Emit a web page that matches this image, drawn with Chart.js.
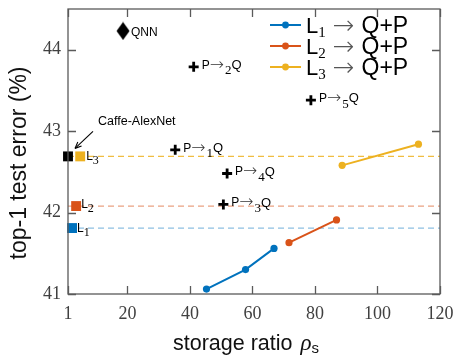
<!DOCTYPE html>
<html lang="en">
<head>
<meta charset="UTF-8">
<title>top-1 test error vs storage ratio</title>
<style>
  *{margin:0;padding:0;box-sizing:border-box}
  body{background:#fff;width:458px;height:358px;overflow:hidden}
  #wrap{position:relative;width:458px;height:358px}
</style>
</head>
<body>
<div id="wrap"><canvas id="c" width="458" height="358"></canvas></div>

<script src="https://cdn.jsdelivr.net/npm/chart.js@4.4.0"></script>
<script>
/* ticks */
const xTicks=[1,20,40,60,80,100,120];
const yTicks=[41,42,43,44];

/* L -> Q+P series */
const l1X=[45.3,57.8,66.9], l1Y=[41.06,41.30,41.56];
const l2X=[71.7,86.9],      l2Y=[41.63,41.91];
const l3X=[88.7,113.1],     l3Y=[42.58,42.84];
const seriesNames=['1','2','3'];

/* pruned baselines L1, L2, L3 (square markers + dashed level) */
const baseX=[2.3,3.6,4.9];
const baseY=[41.81,42.08,42.69];

/* reference nets */
const caffeX=1, caffeY=42.69;
const qnnX=18.6, qnnY=44.23;

/* P ->k Q points */
const pqX=[35.3,41.2,50.7,51.9,78.7];
const pqY=[42.77,43.79,42.10,42.48,43.38];
const pqSub=['1','2','3','4','5'];

const blue='#0072BD', orange='#D95319', yellow='#EDB120';
const cols=[blue,orange,yellow];
const dashCols=['rgba(0,114,189,0.45)','rgba(217,83,25,0.55)','rgba(237,177,32,0.85)'];
const serif="'Liberation Serif', 'Times New Roman', serif";
const sans="'Liberation Sans', Arial, sans-serif";
const arrowFont="200 {s}px 'DejaVu Sans', sans-serif";
const af=s=>arrowFont.replace('{s}',s);

const pts=(xs,ys)=>xs.map((x,i)=>({x:x,y:ys[i]}));

/* tall diamond for QNN */
const dia=document.createElement('canvas');
dia.width=14; dia.height=19;
(function(){const g=dia.getContext('2d');g.fillStyle='#000';g.beginPath();
  g.moveTo(7,0.5);g.lineTo(13.5,9.5);g.lineTo(7,18.5);g.lineTo(0.5,9.5);g.closePath();g.fill();})();

const datasets=[];
/* dashed levels */
baseY.forEach((v,i)=>datasets.push({label:'base'+i,data:[{x:1,y:v},{x:120,y:v}],borderColor:dashCols[i],
  borderWidth:1.3,borderDash:[6,4],pointRadius:0,showLine:true,order:10}));
/* series */
[[l1X,l1Y],[l2X,l2Y],[l3X,l3Y]].forEach((s,i)=>datasets.push({label:'L'+seriesNames[i],data:pts(s[0],s[1]),
  borderColor:cols[i],backgroundColor:cols[i],borderWidth:2,pointRadius:3.6,pointBorderWidth:0,showLine:true,order:2}));
/* baseline squares */
baseX.forEach((x,i)=>datasets.push({label:'sq'+i,data:[{x:x,y:baseY[i]}],backgroundColor:cols[i],borderWidth:0,
  pointStyle:'rect',pointRadius:7,clip:false,order:1}));
datasets.push({label:'caffe',data:[{x:caffeX,y:caffeY}],backgroundColor:'#000',borderWidth:0,pointStyle:'rect',pointRadius:7,clip:false,order:0});
datasets.push({label:'qnn',data:[{x:qnnX,y:qnnY}],pointStyle:dia,order:0});
datasets.push({label:'pq',data:pts(pqX,pqY),borderColor:'#000',pointStyle:'cross',pointRadius:5,pointBorderWidth:2.8,order:0});

function rich(ctx,x,y,parts){
  ctx.textBaseline='middle';ctx.textAlign='left';
  parts.forEach(p=>{ctx.font=p.f;ctx.fillStyle=p.c||'#000';ctx.fillText(p.t,x,y+(p.dy||0));
    x+=ctx.measureText(p.t).width+(p.g||0);});
}

const deco={
  id:'deco',
  afterDatasetsDraw(chart){
    const ctx=chart.ctx, xs=chart.scales.x, ys=chart.scales.y, a=chart.chartArea;
    ctx.save();
    /* frame + inward ticks */
    ctx.strokeStyle='#5a5a5a';ctx.lineWidth=1.3;
    ctx.strokeRect(a.left,a.top,a.right-a.left,a.bottom-a.top);
    ctx.beginPath();
    xTicks.forEach(t=>{const px=Math.round(xs.getPixelForValue(t))+0.5;
      ctx.moveTo(px,a.bottom);ctx.lineTo(px,a.bottom-8);ctx.moveTo(px,a.top);ctx.lineTo(px,a.top+8);});
    yTicks.forEach(t=>{const py=Math.round(ys.getPixelForValue(t))+0.5;
      ctx.moveTo(a.left,py);ctx.lineTo(a.left+8,py);ctx.moveTo(a.right,py);ctx.lineTo(a.right-8,py);});
    ctx.stroke();

    /* P -> k Q labels */
    pqX.forEach((x,i)=>{
      rich(ctx,xs.getPixelForValue(x)+8,ys.getPixelForValue(pqY[i])-1.5,[
        {t:'P',f:'12px '+sans},
        {t:'\u2192',f:af(17),c:'#333',g:1},
        {t:pqSub[i],f:'13px '+serif,dy:5.5},
        {t:'Q',f:'13px '+sans}]);
    });
    rich(ctx,xs.getPixelForValue(qnnX)+8,ys.getPixelForValue(qnnY)+2,[{t:'QNN',f:'12px '+sans}]);

    /* L_k labels by squares */
    const lOff=[[5,1],[5,-1],[6,0]];
    baseX.forEach((x,i)=>{
      rich(ctx,xs.getPixelForValue(x)+lOff[i][0],ys.getPixelForValue(baseY[i])+lOff[i][1],[
        {t:'L',f:'12px '+sans},
        {t:seriesNames[i],f:'12px '+serif,dy:4}]);
    });

    /* Caffe-AlexNet annotation */
    const cx=xs.getPixelForValue(caffeX), cy=ys.getPixelForValue(caffeY);
    ctx.font='12.5px '+sans;ctx.fillStyle='#000';ctx.textAlign='left';ctx.textBaseline='middle';
    ctx.fillText('Caffe-AlexNet',cx+30,cy-35);
    const tx=cx+7,ty=cy-8,fx=cx+25,fy=cy-25;
    ctx.strokeStyle='#000';ctx.lineWidth=1.1;
    ctx.beginPath();ctx.moveTo(fx,fy);ctx.lineTo(tx,ty);ctx.stroke();
    const ang=Math.atan2(ty-fy,tx-fx);
    ctx.beginPath();ctx.moveTo(tx,ty);
    ctx.lineTo(tx-7*Math.cos(ang-0.4),ty-7*Math.sin(ang-0.4));
    ctx.moveTo(tx,ty);
    ctx.lineTo(tx-7*Math.cos(ang+0.4),ty-7*Math.sin(ang+0.4));
    ctx.stroke();

    /* legend */
    seriesNames.forEach((n,i)=>{
      const y=25+i*21, x0=270;
      ctx.strokeStyle=cols[i];ctx.lineWidth=2;
      ctx.beginPath();ctx.moveTo(x0,y);ctx.lineTo(x0+31,y);ctx.stroke();
      ctx.fillStyle=cols[i];ctx.beginPath();ctx.arc(x0+15.5,y,3.4,0,Math.PI*2);ctx.fill();
      rich(ctx,x0+36,y+2,[
        {t:'L',f:'22px '+sans},
        {t:n,f:'15px '+serif,dy:6,g:7},
        {t:'\u2192',f:af(26),c:'#555',g:7},
        {t:'Q+P',f:'23px '+sans}]);
    });

    /* titles */
    rich(ctx,173,344,[
      {t:'storage ratio ',f:'21.5px '+sans,c:'#111',g:2},
      {t:'\u03C1',f:'italic 23px '+serif,c:'#111'},
      {t:'s',f:'15px '+sans,dy:5,c:'#111'}]);
    ctx.translate(20,163);ctx.rotate(-Math.PI/2);
    ctx.font='23px '+sans;ctx.fillStyle='#111';ctx.textAlign='center';ctx.textBaseline='middle';
    ctx.fillText('top-1 test error (%)',0,0);
    ctx.restore();
  }
};

new Chart(document.getElementById('c'),{
  type:'scatter',
  data:{datasets:datasets},
  plugins:[deco],
  options:{
    responsive:false,animation:false,
    devicePixelRatio:1,
    layout:{padding:{left:0,right:18,top:9,bottom:0}},
    plugins:{legend:{display:false},tooltip:{enabled:false}},
    scales:{
      x:{type:'linear',min:1,max:120,
        afterBuildTicks:s=>{s.ticks=xTicks.map(v=>({value:v}));},
        afterFit:s=>{s.height=64;s.paddingLeft=0;s.paddingRight=0;},
        grid:{display:false,drawTicks:false},border:{display:false},
        ticks:{padding:9,color:'#404040',font:{family:serif,size:18},maxRotation:0,autoSkip:false}},
      y:{type:'linear',min:41,max:44.5,
        afterBuildTicks:s=>{s.ticks=yTicks.map(v=>({value:v}));},
        afterFit:s=>{s.width=68;s.paddingTop=0;s.paddingBottom=0;},
        grid:{display:false,drawTicks:false},border:{display:false},
        ticks:{padding:7,color:'#404040',font:{family:serif,size:18}}}
    }
  }
});
</script>
</body>
</html>
